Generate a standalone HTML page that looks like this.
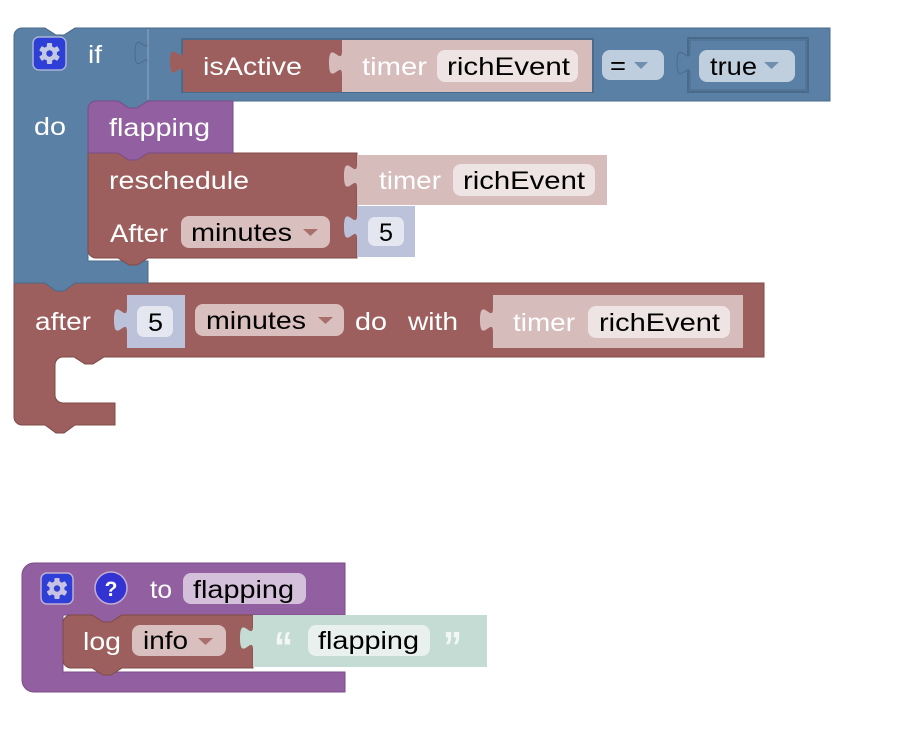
<!DOCTYPE html>
<html><head><meta charset="utf-8"><style>
html,body{margin:0;padding:0;background:#fff;}
svg{display:block;}
text{font-family:"Liberation Sans",Arial,sans-serif;font-size:25px;}
.w{fill:#fff;}
.k{fill:#000;}
</style></head><body>
<svg width="906" height="734" viewBox="0 0 906 734" xmlns="http://www.w3.org/2000/svg">
<rect width="906" height="734" fill="#fff"/>

<!-- after block -->
<path d="M14,283 H764 V357 H104 L93,364 H85 L74,357 H63 A8,8 0 0 0 55,365 V395 A8,8 0 0 0 63,403 H115 V425 H75 L64,433 H56 L45,425 H22 A8,8 0 0 1 14,417 Z" fill="#9c5f5d" stroke="#7f4b49" stroke-width="1"/>

<!-- if block -->
<path d="M14,36 A8,8 0 0 1 22,28 H45 L56,35 H64 L75,28 H148 V101 L137,108 H129 L118,101 H96 A8,8 0 0 0 88,109 V261 H148 V283 H75 L64,291 H56 L45,283 H14 Z" fill="#5b80a5" stroke="#4a6a8b" stroke-width="1"/>

<!-- compare block -->
<path d="M830,28 H148 V41 c0,16 -13,-13 -13,12 s13,-4 13,12 V101 H830 Z" fill="#5b80a5" stroke="#4a6a8b" stroke-width="1"/>
<line x1="148" y1="29" x2="148" y2="100" stroke="#8ea8c3" stroke-width="1"/>

<!-- inline input outline for isActive -->
<rect x="181" y="38" width="413" height="55" fill="#4b6b8c"/>
<!-- isActive block -->
<path d="M592,40 H183 V50 c0,16 -13,-13 -13,12 s13,-4 13,12 V92 H592 Z" fill="#9c5f5d"/>
<!-- timer shadow in isActive -->
<path d="M592,40 H342 V51 c0,16 -13,-13 -13,12 s13,-4 13,12 V92 H592 Z" fill="#d7bcbc"/>
<rect x="437" y="50" width="141" height="32" rx="8" fill="#efe4e4"/>

<!-- = dropdown -->
<rect x="602" y="50" width="62" height="30" rx="8" fill="#bfcede"/>
<polygon points="634,62 648,62 641,69" fill="#6f8fb0"/>

<!-- true block -->
<rect x="688" y="38" width="120" height="54" fill="none" stroke="#4a6a8b" stroke-width="2"/>
<path d="M806,40 H690 V51 c0,16 -13,-13 -13,12 s13,-4 13,12 V90 H806 Z" fill="#5b80a5" stroke="#4a6a8b" stroke-width="1"/>
<rect x="699" y="50" width="96" height="32" rx="8" fill="#c0cfde"/>
<polygon points="764,62 779,62 771.5,69" fill="#6f8fb0"/>

<!-- reschedule block -->
<path d="M88,153 H357 V258 H148 L137,265 H129 L118,258 H96 A8,8 0 0 1 88,250 Z" fill="#9c5f5d" stroke="#7f4b49" stroke-width="1"/>
<!-- flapping call block -->
<path d="M88,109 A8,8 0 0 1 96,101 H118 L129,108 H137 L148,101 H233 V153 H148 L137,160 H129 L118,153 H88 Z" fill="#9260a1" stroke="#7a4d88" stroke-width="1"/>

<!-- timer shadow in reschedule -->
<path d="M607,155 H357 V164 c0,16 -13,-13 -13,12 s13,-4 13,12 V205 H607 Z" fill="#d7bcbc"/>
<rect x="453" y="164" width="142" height="32" rx="8" fill="#efe4e4"/>
<!-- number shadow in reschedule -->
<path d="M415,206 H357 V215 c0,16 -13,-13 -13,12 s13,-4 13,12 V257 H415 Z" fill="#bcc2d9"/>
<rect x="368" y="217" width="36" height="29" rx="7" fill="#e5e7f0"/>
<!-- minutes dropdown in reschedule -->
<rect x="181" y="216" width="149" height="32" rx="8" fill="#d9bfbe"/>
<polygon points="303,229 318,229 310.5,236" fill="#a86f6d"/>

<!-- after row inputs -->
<path d="M185,295 H127 V308 c0,16 -13,-13 -13,12 s13,-4 13,12 V348 H185 Z" fill="#bcc2d9"/>
<rect x="137" y="306" width="36" height="31" rx="7" fill="#e5e7f0"/>
<rect x="195" y="304" width="149" height="32" rx="8" fill="#d9bfbe"/>
<polygon points="318,317 333,317 325.5,324" fill="#a86f6d"/>
<path d="M743,295 H493 V308 c0,16 -13,-13 -13,12 s13,-4 13,12 V348 H743 Z" fill="#d7bcbc"/>
<rect x="588" y="306" width="142" height="32" rx="8" fill="#efe4e4"/>

<!-- gear icon (if) -->
<rect x="33" y="37" width="33" height="33" rx="6" fill="#2d3fd6" stroke="#a9b2d6" stroke-width="1.5"/>
<g transform="translate(49.5,53.5)" fill="#c3c8e3">
<circle r="7.5"/>
<rect x="-2.6" y="-10.5" width="5.2" height="5" rx="1"/>
<rect x="-2.6" y="-10.5" width="5.2" height="5" rx="1" transform="rotate(60)"/>
<rect x="-2.6" y="-10.5" width="5.2" height="5" rx="1" transform="rotate(120)"/>
<rect x="-2.6" y="-10.5" width="5.2" height="5" rx="1" transform="rotate(180)"/>
<rect x="-2.6" y="-10.5" width="5.2" height="5" rx="1" transform="rotate(240)"/>
<rect x="-2.6" y="-10.5" width="5.2" height="5" rx="1" transform="rotate(300)"/>
<circle r="3.2" fill="#2d3fd6"/>
</g>

<!-- procedure block -->
<path d="M22,575 A12,12 0 0 1 34,563 H345 V615 H122 L111,622 H103 L92,615 H63 V672 H345 V692 H34 A12,12 0 0 1 22,680 Z" fill="#9260a1" stroke="#7a4d88" stroke-width="1"/>
<rect x="41" y="573" width="32" height="31" rx="6" fill="#2d3fd6" stroke="#c0aed0" stroke-width="1.5"/>
<g transform="translate(57,588.5)" fill="#c8c3e3">
<circle r="7.5"/>
<rect x="-2.6" y="-10.5" width="5.2" height="5" rx="1"/>
<rect x="-2.6" y="-10.5" width="5.2" height="5" rx="1" transform="rotate(60)"/>
<rect x="-2.6" y="-10.5" width="5.2" height="5" rx="1" transform="rotate(120)"/>
<rect x="-2.6" y="-10.5" width="5.2" height="5" rx="1" transform="rotate(180)"/>
<rect x="-2.6" y="-10.5" width="5.2" height="5" rx="1" transform="rotate(240)"/>
<rect x="-2.6" y="-10.5" width="5.2" height="5" rx="1" transform="rotate(300)"/>
<circle r="3.2" fill="#2d3fd6"/>
</g>
<circle cx="111" cy="588" r="16" fill="#3333d3" stroke="#c0aed0" stroke-width="1.5"/>
<text x="111" y="596" text-anchor="middle" class="w" style="font-size:21px;font-weight:bold">?</text>
<rect x="183" y="573" width="123" height="31" rx="8" fill="#d5c0dc"/>

<!-- log block -->
<path d="M63,623 A8,8 0 0 1 71,615 H92 L103,622 H111 L122,615 H253 V668 H122 L111,675 H103 L92,668 H71 A8,8 0 0 1 63,660 Z" fill="#9c5f5d" stroke="#7f4b49" stroke-width="1"/>
<rect x="132" y="625" width="94" height="31" rx="8" fill="#d9bfbe"/>
<polygon points="198,638 213,638 205.5,645" fill="#a86f6d"/>
<path d="M487,615 H253 V626 c0,16 -13,-13 -13,12 s13,-4 13,12 V667 H487 Z" fill="#c4dcd3"/>
<rect x="308" y="625" width="122" height="31" rx="8" fill="#e8f1ed"/>

<!-- texts -->
<text x="88" y="63" class="w" textLength="14" lengthAdjust="spacingAndGlyphs">if</text>
<text x="203" y="75" class="w" textLength="99" lengthAdjust="spacingAndGlyphs">isActive</text>
<text x="362" y="75" class="w" textLength="65" lengthAdjust="spacingAndGlyphs">timer</text>
<text x="447" y="75" class="k" textLength="123" lengthAdjust="spacingAndGlyphs">richEvent</text>
<text x="610" y="74" class="k" textLength="16" lengthAdjust="spacingAndGlyphs">=</text>
<text x="710" y="75" class="k" textLength="47" lengthAdjust="spacingAndGlyphs">true</text>

<text x="34" y="135" class="w" textLength="32" lengthAdjust="spacingAndGlyphs">do</text>
<text x="109" y="136" class="w" textLength="101" lengthAdjust="spacingAndGlyphs">flapping</text>

<text x="109" y="189" class="w" textLength="140" lengthAdjust="spacingAndGlyphs">reschedule</text>
<text x="379" y="189" class="w" textLength="62" lengthAdjust="spacingAndGlyphs">timer</text>
<text x="463" y="189" class="k" textLength="122" lengthAdjust="spacingAndGlyphs">richEvent</text>

<text x="110" y="242" class="w" textLength="58" lengthAdjust="spacingAndGlyphs">After</text>
<text x="191" y="241" class="k" textLength="101" lengthAdjust="spacingAndGlyphs">minutes</text>
<text x="379" y="241" class="k" textLength="14" lengthAdjust="spacingAndGlyphs">5</text>

<text x="35" y="330" class="w" textLength="56" lengthAdjust="spacingAndGlyphs">after</text>
<text x="148" y="331" class="k" textLength="15" lengthAdjust="spacingAndGlyphs">5</text>
<text x="206" y="329" class="k" textLength="100" lengthAdjust="spacingAndGlyphs">minutes</text>
<text x="355" y="330" class="w" textLength="32" lengthAdjust="spacingAndGlyphs">do</text>
<text x="408" y="330" class="w" textLength="50" lengthAdjust="spacingAndGlyphs">with</text>
<text x="513" y="331" class="w" textLength="62" lengthAdjust="spacingAndGlyphs">timer</text>
<text x="599" y="331" class="k" textLength="121" lengthAdjust="spacingAndGlyphs">richEvent</text>

<text x="150" y="598" class="w" textLength="22" lengthAdjust="spacingAndGlyphs">to</text>
<text x="193" y="598" class="k" textLength="101" lengthAdjust="spacingAndGlyphs">flapping</text>
<text x="83" y="650" class="w" textLength="38" lengthAdjust="spacingAndGlyphs">log</text>
<text x="143" y="649" class="k" textLength="45" lengthAdjust="spacingAndGlyphs">info</text>
<text x="274" y="662" style="font-size:44px;font-weight:bold;fill:#f2f7f5" textLength="19" lengthAdjust="spacingAndGlyphs">“</text>
<text x="318" y="649" class="k" textLength="101" lengthAdjust="spacingAndGlyphs">flapping</text>
<text x="443" y="662" style="font-size:44px;font-weight:bold;fill:#f2f7f5" textLength="19" lengthAdjust="spacingAndGlyphs">”</text>
</svg>
</body></html>
